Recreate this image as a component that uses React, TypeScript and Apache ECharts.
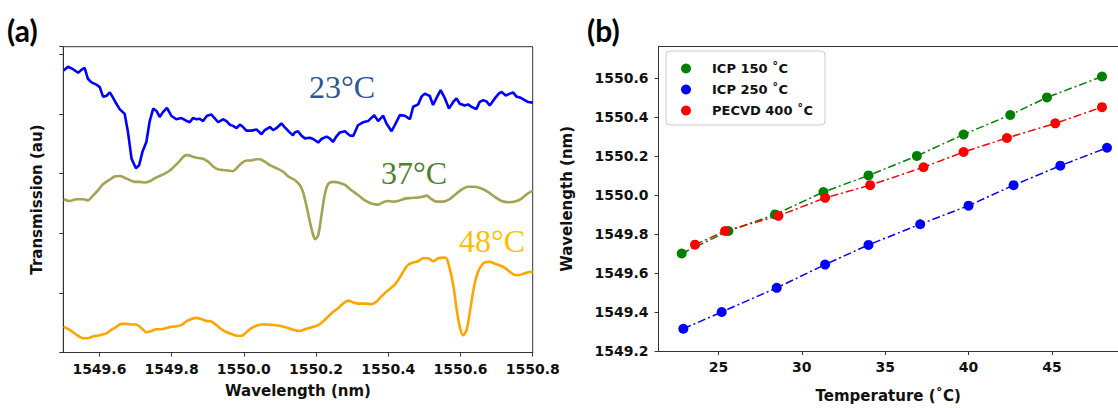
import React, { useEffect, useRef } from "react";
import * as echarts from "echarts";

// ---------- Panel (a): transmission spectra ----------
const wl23 = [1549.501,1549.513,1549.527,1549.541,1549.555,1549.559,1549.568,1549.578,1549.592,1549.601,1549.610,1549.619,1549.629,1549.638,1549.647,1549.656,1549.670,1549.679,1549.689,1549.701,1549.710,1549.719,1549.730,1549.739,1549.749,1549.758,1549.767,1549.776,1549.787,1549.799,1549.813,1549.827,1549.839,1549.850,1549.859,1549.869,1549.878,1549.887,1549.898,1549.910,1549.919,1549.929,1549.942,1549.952,1549.961,1549.970,1549.980,1549.989,1549.998,1550.007,1550.021,1550.035,1550.049,1550.058,1550.072,1550.081,1550.090,1550.104,1550.113,1550.127,1550.136,1550.141,1550.150,1550.159,1550.169,1550.183,1550.192,1550.206,1550.215,1550.229,1550.238,1550.247,1550.256,1550.266,1550.280,1550.293,1550.303,1550.316,1550.330,1550.344,1550.361,1550.372,1550.386,1550.395,1550.409,1550.418,1550.432,1550.446,1550.460,1550.469,1550.483,1550.492,1550.501,1550.515,1550.524,1550.533,1550.545,1550.557,1550.568,1550.580,1550.589,1550.598,1550.612,1550.621,1550.630,1550.644,1550.653,1550.663,1550.672,1550.681,1550.695,1550.706,1550.714,1550.725,1550.737,1550.746,1550.755,1550.767,1550.778,1550.787,1550.800];
const tr23 = [4.73,4.79,4.75,4.69,4.76,4.77,4.59,4.53,4.49,4.45,4.29,4.30,4.36,4.27,4.17,4.08,4.00,3.70,3.25,3.09,3.14,3.36,3.53,3.87,4.09,4.05,3.95,4.03,4.10,3.97,3.91,3.93,3.89,3.86,3.93,3.91,3.92,3.88,3.97,3.99,3.93,3.86,3.91,3.88,3.82,3.80,3.76,3.82,3.78,3.72,3.72,3.74,3.66,3.73,3.78,3.73,3.76,3.84,3.78,3.69,3.64,3.69,3.71,3.64,3.59,3.60,3.58,3.52,3.58,3.62,3.59,3.53,3.62,3.69,3.71,3.64,3.63,3.81,3.86,3.88,3.98,3.88,3.97,3.84,3.71,3.81,3.98,3.97,3.91,4.12,4.16,4.29,4.34,4.30,4.15,4.26,4.40,4.26,4.09,4.20,4.26,4.17,4.14,4.16,4.12,4.08,4.20,4.23,4.21,4.14,4.26,4.34,4.37,4.31,4.34,4.36,4.29,4.27,4.23,4.20,4.19];

const wl37 = [1549.501,1549.518,1549.536,1549.555,1549.568,1549.582,1549.596,1549.610,1549.629,1549.642,1549.656,1549.670,1549.684,1549.698,1549.712,1549.726,1549.739,1549.753,1549.767,1549.781,1549.795,1549.809,1549.822,1549.836,1549.846,1549.859,1549.873,1549.887,1549.901,1549.915,1549.929,1549.942,1549.956,1549.970,1549.980,1549.993,1550.007,1550.021,1550.035,1550.044,1550.058,1550.072,1550.090,1550.109,1550.123,1550.136,1550.141,1550.155,1550.164,1550.173,1550.183,1550.192,1550.198,1550.206,1550.215,1550.224,1550.233,1550.247,1550.261,1550.280,1550.298,1550.316,1550.335,1550.353,1550.372,1550.386,1550.400,1550.413,1550.427,1550.446,1550.464,1550.483,1550.496,1550.506,1550.520,1550.533,1550.552,1550.570,1550.584,1550.603,1550.621,1550.640,1550.658,1550.677,1550.695,1550.714,1550.732,1550.751,1550.769,1550.787,1550.800];
const tr37 = [2.57,2.54,2.57,2.57,2.55,2.63,2.72,2.82,2.90,2.95,2.96,2.93,2.89,2.86,2.86,2.85,2.87,2.92,2.96,3.00,3.05,3.13,3.21,3.30,3.31,3.28,3.26,3.25,3.20,3.12,3.07,3.06,3.05,3.04,3.09,3.17,3.22,3.22,3.24,3.24,3.20,3.14,3.09,3.03,2.95,2.91,2.89,2.81,2.69,2.47,2.19,1.97,1.90,1.97,2.30,2.64,2.82,2.86,2.85,2.81,2.72,2.64,2.55,2.50,2.48,2.52,2.54,2.53,2.54,2.58,2.59,2.60,2.61,2.63,2.57,2.53,2.53,2.57,2.64,2.73,2.78,2.78,2.75,2.69,2.61,2.54,2.52,2.53,2.58,2.67,2.71];

const wl48 = [1549.501,1549.518,1549.536,1549.555,1549.568,1549.582,1549.601,1549.619,1549.633,1549.647,1549.661,1549.675,1549.689,1549.702,1549.716,1549.730,1549.744,1549.758,1549.772,1549.785,1549.799,1549.813,1549.827,1549.841,1549.855,1549.869,1549.882,1549.896,1549.910,1549.924,1549.938,1549.952,1549.966,1549.980,1549.993,1550.007,1550.021,1550.035,1550.049,1550.062,1550.081,1550.099,1550.118,1550.136,1550.155,1550.169,1550.187,1550.206,1550.219,1550.233,1550.247,1550.261,1550.275,1550.289,1550.303,1550.316,1550.335,1550.353,1550.367,1550.381,1550.395,1550.409,1550.418,1550.427,1550.436,1550.446,1550.455,1550.469,1550.483,1550.496,1550.510,1550.524,1550.538,1550.552,1550.561,1550.570,1550.580,1550.589,1550.598,1550.607,1550.617,1550.626,1550.635,1550.644,1550.653,1550.667,1550.681,1550.695,1550.709,1550.723,1550.737,1550.751,1550.764,1550.778,1550.792,1550.800];
const tr48 = [0.43,0.38,0.30,0.24,0.24,0.27,0.29,0.32,0.38,0.43,0.48,0.48,0.47,0.47,0.41,0.34,0.36,0.39,0.39,0.41,0.43,0.44,0.46,0.52,0.56,0.58,0.56,0.53,0.52,0.46,0.39,0.34,0.31,0.28,0.28,0.34,0.41,0.45,0.47,0.47,0.46,0.45,0.42,0.38,0.36,0.39,0.42,0.46,0.52,0.60,0.68,0.74,0.82,0.87,0.84,0.82,0.82,0.81,0.85,0.94,1.02,1.09,1.14,1.21,1.30,1.40,1.47,1.51,1.53,1.58,1.58,1.53,1.58,1.59,1.58,1.41,1.13,0.74,0.43,0.29,0.38,0.68,1.02,1.27,1.41,1.51,1.52,1.49,1.46,1.42,1.35,1.30,1.30,1.33,1.35,1.35];

const wlTicksA = [1549.6, 1549.8, 1550.0, 1550.2, 1550.4, 1550.6, 1550.8];
const curveLabels = ["23°C", "37°C", "48°C"];

// ---------- Panel (b): resonance wavelength vs temperature ----------
const legendNames = ["ICP 150 ˚C", "ICP 250 ˚C", "PECVD 400 ˚C"];
const tempIcp150 = [22.8, 25.6, 28.4, 31.3, 34.0, 36.9, 39.7, 42.5, 44.7, 48.0];
const wlIcp150 = [1549.70, 1549.815, 1549.90, 1550.015, 1550.10, 1550.20, 1550.31, 1550.41, 1550.50, 1550.607];
const tempIcp250 = [22.9, 25.2, 28.5, 31.4, 34.0, 37.1, 40.0, 42.7, 45.5, 48.3];
const wlIcp250 = [1549.314, 1549.40, 1549.524, 1549.643, 1549.744, 1549.85, 1549.945, 1550.05, 1550.15, 1550.242];
const tempPecvd = [23.6, 25.4, 28.6, 31.4, 34.1, 37.3, 39.7, 42.3, 45.2, 48.0];
const wlPecvd = [1549.745, 1549.815, 1549.893, 1549.985, 1550.05, 1550.142, 1550.22, 1550.292, 1550.367, 1550.45];

const tempTicks = [25, 30, 35, 40, 45];
const wlTicksB = [1549.2, 1549.4, 1549.6, 1549.8, 1550.0, 1550.2, 1550.4, 1550.6];

const zip = (xs: number[], ys: number[]) => xs.map((x, i) => [x, ys[i]]);

export default function App() {
  const ref = useRef<HTMLDivElement>(null);
  useEffect(() => {
    if (!ref.current) return;
    const chart = echarts.init(ref.current, undefined, { renderer: "svg" });
    const font = "DejaVu Sans";
    const axisCol = "#333";
    const tickLabel = { fontFamily: font, fontWeight: "bold" as const, fontSize: 14, color: "#111" };
    const nameStyle = { fontFamily: font, fontWeight: "bold" as const, fontSize: 15, color: "#111" };
    const dashDot = [8, 3, 2, 3];

    chart.setOption({
      animation: false,
      backgroundColor: "#fff",
      textStyle: { fontFamily: font },
      grid: [
        { left: 63.3, right: 585.3, top: 46.7, bottom: 55.5, show: true, borderColor: axisCol, borderWidth: 1, backgroundColor: "transparent" },
        { left: 658.5, right: 0, top: 46.7, bottom: 54.7 },
      ],
      xAxis: [
        {
          gridIndex: 0, type: "value", min: 1549.5, max: 1550.8,
          axisLine: { show: true, lineStyle: { color: axisCol, width: 1 } },
          axisTick: { show: true, length: 4, lineStyle: { color: axisCol }, customValues: wlTicksA },
          axisLabel: { ...tickLabel, margin: 9, customValues: wlTicksA, formatter: (v: number) => v.toFixed(1) },
          splitLine: { show: false },
          name: "Wavelength (nm)", nameLocation: "middle", nameGap: 31, nameTextStyle: nameStyle,
        },
        {
          gridIndex: 1, type: "value", min: 21.41, max: 48.96,
          axisLine: { show: true, onZero: false, lineStyle: { color: axisCol, width: 1 } },
          axisTick: { show: true, length: 4, lineStyle: { color: axisCol }, customValues: tempTicks },
          axisLabel: { ...tickLabel, margin: 9, customValues: tempTicks, formatter: (v: number) => String(Math.round(v)) },
          splitLine: { show: false },
          name: "Temperature (˚C)", nameLocation: "middle", nameGap: 37, nameTextStyle: nameStyle,
        },
        {
          gridIndex: 1, type: "value", position: "top", min: 21.41, max: 48.96,
          axisLine: { show: true, lineStyle: { color: axisCol, width: 1 } },
          axisTick: { show: false }, axisLabel: { show: false }, splitLine: { show: false },
        },
      ],
      yAxis: [
        {
          gridIndex: 0, type: "value", min: 0, max: 5.127, interval: 1,
          axisLine: { show: true, lineStyle: { color: axisCol, width: 1 } },
          axisTick: { show: true, length: 4, lineStyle: { color: axisCol } },
          axisLabel: { show: false },
          splitLine: { show: false },
          name: "Transmission (au)", nameLocation: "middle", nameGap: 19, nameTextStyle: nameStyle,
        },
        {
          gridIndex: 1, type: "value", min: 1549.2, max: 1550.76,
          axisLine: { show: true, onZero: false, lineStyle: { color: axisCol, width: 1 } },
          axisTick: { show: true, length: 4, lineStyle: { color: axisCol }, customValues: wlTicksB },
          axisLabel: { ...tickLabel, margin: 10, customValues: wlTicksB, formatter: (v: number) => v.toFixed(1) },
          splitLine: { show: false },
          name: "Wavelength (nm)", nameLocation: "middle", nameGap: 84, nameTextStyle: nameStyle,
        },
      ],
      legend: {
        data: legendNames,
        left: 666, top: 51, orient: "vertical",
        icon: "circle", itemWidth: 24, itemHeight: 10, itemGap: 8,
        padding: [11, 12, 8, 15],
        backgroundColor: "rgba(255,255,255,0.85)",
        borderColor: "#cccccc", borderWidth: 1, borderRadius: 4,
        textStyle: { fontFamily: font, fontWeight: "bold", fontSize: 13, color: "#111", padding: [0, 0, 0, 9] },
      },
      series: [
        { type: "line", xAxisIndex: 0, yAxisIndex: 0, data: zip(wl23, tr23), showSymbol: false, lineStyle: { color: "#0000ff", width: 2.6 }, itemStyle: { color: "#0000ff" } },
        { type: "line", xAxisIndex: 0, yAxisIndex: 0, data: zip(wl37, tr37), showSymbol: false, smooth: 0.3, lineStyle: { color: "#a3a354", width: 2.6 }, itemStyle: { color: "#a3a354" } },
        { type: "line", xAxisIndex: 0, yAxisIndex: 0, data: zip(wl48, tr48), showSymbol: false, smooth: 0.3, lineStyle: { color: "#ffa500", width: 2.6 }, itemStyle: { color: "#ffa500" } },
        { name: legendNames[0], type: "line", xAxisIndex: 1, yAxisIndex: 1, data: zip(tempIcp150, wlIcp150), symbol: "circle", symbolSize: 10, lineStyle: { color: "#008000", width: 1.5, type: dashDot }, itemStyle: { color: "#008000" } },
        { name: legendNames[1], type: "line", xAxisIndex: 1, yAxisIndex: 1, data: zip(tempIcp250, wlIcp250), symbol: "circle", symbolSize: 10, lineStyle: { color: "#0000ff", width: 1.5, type: dashDot }, itemStyle: { color: "#0000ff" } },
        { name: legendNames[2], type: "line", xAxisIndex: 1, yAxisIndex: 1, data: zip(tempPecvd, wlPecvd), symbol: "circle", symbolSize: 10, lineStyle: { color: "#ff0000", width: 1.5, type: dashDot }, itemStyle: { color: "#ff0000" } },
      ],
      graphic: [
        { type: "text", x: 7, y: 30, style: { text: "(a)", fontFamily: "Lato", fontWeight: "bold", fontSize: 30, fill: "#000", verticalAlign: "middle" } },
        { type: "text", x: 587, y: 30, style: { text: "(b)", fontFamily: "Lato", fontWeight: "bold", fontSize: 30, fill: "#000", verticalAlign: "middle" } },
        { type: "text", x: 342, y: 87, style: { text: curveLabels[0], fontFamily: "Liberation Serif", fontSize: 32, fill: "#2f5597", align: "center", verticalAlign: "middle" } },
        { type: "text", x: 414, y: 173, style: { text: curveLabels[1], fontFamily: "Liberation Serif", fontSize: 32, fill: "#4f7f2f", align: "center", verticalAlign: "middle" } },
        { type: "text", x: 492, y: 241, style: { text: curveLabels[2], fontFamily: "Liberation Serif", fontSize: 32, fill: "#ffc000", align: "center", verticalAlign: "middle" } },
      ],
    });
    return () => chart.dispose();
  }, []);
  return <div ref={ref} style={{ position: "fixed", left: 0, top: 0, width: 1118, height: 408, background: "#fff" }} />;
}
